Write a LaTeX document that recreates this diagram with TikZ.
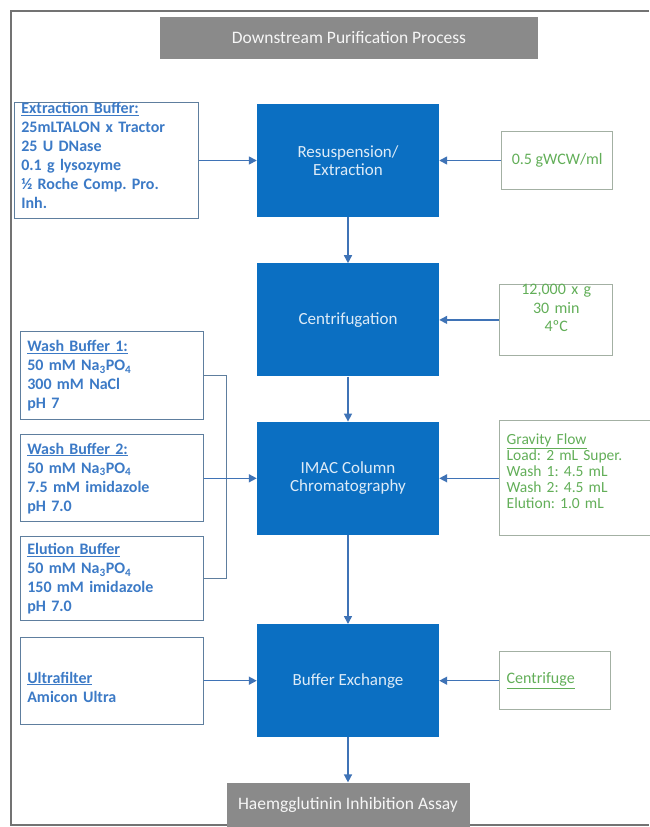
\documentclass[tikz,border=0pt]{standalone}
\usepackage{fontspec}
\setmainfont{Carlito}
\usepackage{xcolor}
\usetikzlibrary{positioning, arrows.meta}
\frenchspacing

\definecolor{procblue}{HTML}{0B6FC2}
\definecolor{arrowblue}{HTML}{3F73B6}
\definecolor{bufblue}{HTML}{3C7AC6}
\definecolor{bufedge}{HTML}{5E7E9E}
\definecolor{condgreen}{HTML}{62AE58}
\definecolor{condedge}{HTML}{A3B0A3}
\definecolor{headgray}{HTML}{8A8A8A}

\tikzstyle{process} = [rectangle, minimum width=182pt, minimum height=113pt, text centered, align=center, fill=procblue, text=white!86!procblue, font=\fontsize{17}{18.5}\selectfont, inner sep=0pt]
\tikzstyle{header} = [rectangle, fill=headgray, text=white!92!headgray, font=\fontsize{17.5}{18}\selectfont, inner sep=0pt]
\tikzstyle{buffer} = [rectangle, draw=bufedge, line width=1pt, text=bufblue, text width=169pt, align=left, font=\bfseries\fontsize{16}{19}\selectfont, inner xsep=7pt, inner ysep=0pt]
\tikzstyle{condition} = [rectangle, draw=condedge, line width=1pt, text=condgreen, font=\fontsize{16}{18.5}\selectfont, inner xsep=7pt, inner ysep=0pt]
\tikzstyle{arrow} = [line width=1.5pt, draw=arrowblue, -{Triangle[length=8pt,width=8pt]}]
\tikzstyle{bracket} = [line width=1.2pt, draw=bufedge]
\tikzstyle{pageedge} = [line width=1.2pt, draw=black!55]

\begin{document}
\begin{tikzpicture}[x=1pt, y=-1pt]
        \useasboundingbox (0,0) rectangle (649,827);
        \draw [pageedge] (649,11) -- (11,11) -- (11,825) -- (649,825);

        % Nodes
        \node (title) [header, minimum width=378pt, minimum height=42pt] at (349,38) {Downstream Purification Process};
        \node (resus) [process] at (348,160.5) {Resuspension/\\Extraction};
        \node (centrif) [process, below=46pt of resus] {Centrifugation};
        \node (imac) [process, below=45pt of centrif] {IMAC Column\\Chromatography};
        \node (bufex) [process, below=89pt of imac] {Buffer Exchange};
        \node (assay) [header, minimum width=243pt, minimum height=44pt, below=45pt of bufex] {Haemgglutinin Inhibition Assay};

        \node (extract) [buffer, text width=170pt, minimum height=115pt, left=58pt of resus] {\underline{Extraction Buffer:}\\25mLTALON x Tractor\\25 U DNase\\0.1 g lysozyme\\½ Roche Comp. Pro.\\Inh.\\[-9pt]\mbox{}};
        \node (wash2) [buffer, minimum height=87pt, left=53pt of imac] {\underline{Wash Buffer 2:}\\50 mM Na\textsubscript{3}PO\textsubscript{4}\\7.5 mM imidazole\\pH 7.0};
        \node (wash1) [buffer, minimum height=88pt, above=14pt of wash2] {\underline{Wash Buffer 1:}\\50 mM Na\textsubscript{3}PO\textsubscript{4}\\300 mM NaCl\\pH 7};
        \node (elution) [buffer, minimum height=84pt, below=14pt of wash2] {\underline{Elution Buffer}\\50 mM Na\textsubscript{3}PO\textsubscript{4}\\150 mM imidazole\\pH 7.0};
        \node (ultra) [buffer, minimum height=87pt, left=53pt of bufex] {\mbox{}\\[5pt]\underline{Ultrafilter}\\Amicon Ultra};

        \node (wcw) [condition, minimum width=111pt, minimum height=58pt, right=62pt of resus] {0.5 gWCW/ml};
        \node (spin) [condition, text width=99pt, minimum height=59pt, align=center, right=60pt of centrif] {12,000 x g\\30 min\\4ºC\\[5pt]\mbox{}};
        \node (gravity) [condition, text width=138pt, align=left, minimum height=115pt, font=\fontsize{15.5}{16.2}\selectfont, right=60pt of imac] {\underline{Gravity Flow}\\Load: 2 mL Super.\\Wash 1: 4.5 mL\\Wash 2: 4.5 mL\\Elution: 1.0 mL\\[-2pt]\mbox{}};
        \node (centfg) [condition, text width=97pt, align=left, minimum height=58pt, right=60pt of bufex] {\underline{Centrifuge}};

        % Arrows
        \draw [arrow] (extract) -- (resus);
        \draw [arrow] (wcw) -- (resus);
        \draw [arrow] (resus) -- (centrif);
        \draw [arrow] (spin) -- (centrif);
        \draw [arrow] (centrif) -- (imac);
        \draw [bracket] (wash1.east) -- ++(23pt,0) |- (elution.east);
        \draw [arrow] (wash2) -- (imac);
        \draw [arrow] (gravity) -- (imac);
        \draw [arrow] (imac) -- (bufex);
        \draw [arrow] (ultra) -- (bufex);
        \draw [arrow] (centfg) -- (bufex);
        \draw [arrow] (bufex) -- (assay);
    \end{tikzpicture}
\end{document}
